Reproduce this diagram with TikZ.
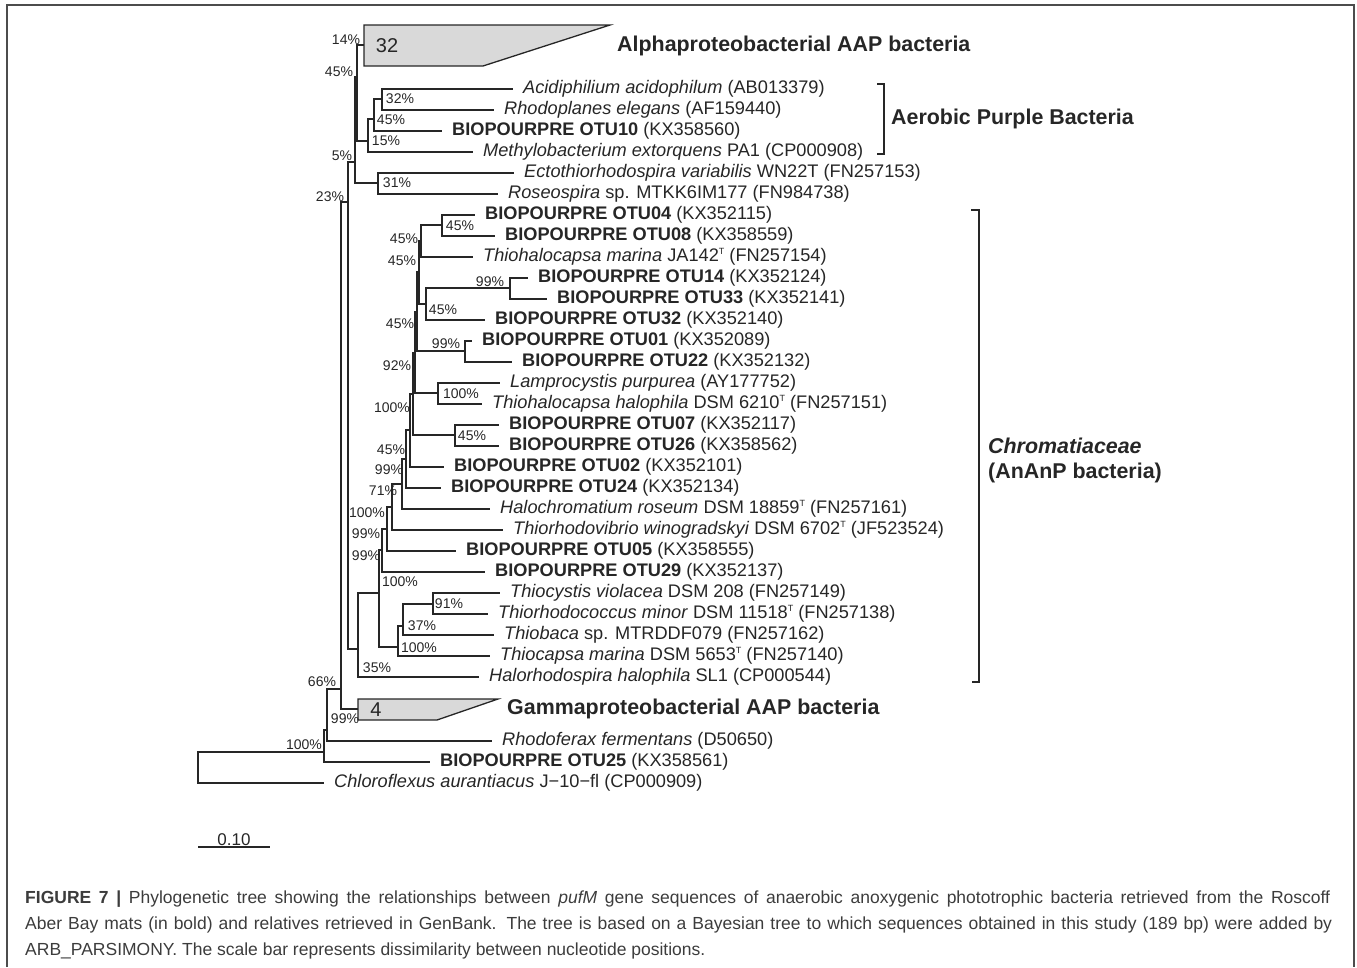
\documentclass[tikz,border=0pt]{standalone}
\usepackage{fontspec}
\setmainfont{Liberation Sans}
\usepackage{tikz}
\usetikzlibrary{positioning}
\usepackage{xcolor}
\definecolor{treeline}{HTML}{262626}
\definecolor{cladefill}{HTML}{D9D9D9}
\definecolor{captext}{HTML}{3C3C3C}
\newcommand{\typeT}{\raisebox{7pt}{\fontsize{9}{9}\selectfont T}}

\begin{document}
\begin{tikzpicture}[x=1pt, y=-1pt,
    br/.style={draw=treeline, line width=1.3pt},
    taxon/.style={anchor=west, inner xsep=10pt, inner ysep=0pt, text=treeline, font=\fontsize{18.2}{20}\selectfont},
    boot/.style={inner sep=0pt, text=treeline, font=\fontsize{14}{14}\selectfont},
    clade/.style={anchor=west, inner sep=0pt, text=treeline, font=\fontsize{21.4}{24}\selectfont\bfseries},
    caprow/.style={anchor=base west, inner sep=0pt, text=captext, font=\fontsize{17.5}{20}\selectfont}]
  \useasboundingbox (0,0) rectangle (1357,967);
  \draw[line width=2pt, draw=black!70] (7,967) -- (7,5) -- (1354,5) -- (1354,967);

  % leaves
  \node[taxon] (acid) at (513,89) {\textit{Acidiphilium acidophilum} (AB013379)};
  \node[taxon] (rhodo) at (494,110) {\textit{Rhodoplanes elegans} (AF159440)};
  \node[taxon] (otu10) at (442,131) {\textbf{BIOPOURPRE OTU10} (KX358560)};
  \node[taxon] (methyl) at (473,152) {\textit{Methylobacterium extorquens} PA1 (CP000908)};
  \node[taxon] (ecto) at (514,173) {\textit{Ectothiorhodospira variabilis} WN22T (FN257153)};
  \node[taxon] (roseo) at (498,194) {\textit{Roseospira} sp. MTKK6IM177 (FN984738)};
  \node[taxon] (otu04) at (475,215) {\textbf{BIOPOURPRE OTU04} (KX352115)};
  \node[taxon] (otu08) at (495,236) {\textbf{BIOPOURPRE OTU08} (KX358559)};
  \node[taxon] (tmar) at (473,257) {\textit{Thiohalocapsa marina} JA142\typeT{} (FN257154)};
  \node[taxon] (otu14) at (528,278) {\textbf{BIOPOURPRE OTU14} (KX352124)};
  \node[taxon] (otu33) at (547,299) {\textbf{BIOPOURPRE OTU33} (KX352141)};
  \node[taxon] (otu32) at (485,320) {\textbf{BIOPOURPRE OTU32} (KX352140)};
  \node[taxon] (otu01) at (472,341) {\textbf{BIOPOURPRE OTU01} (KX352089)};
  \node[taxon] (otu22) at (512,362) {\textbf{BIOPOURPRE OTU22} (KX352132)};
  \node[taxon] (lampro) at (500,383) {\textit{Lamprocystis purpurea} (AY177752)};
  \node[taxon] (thalo) at (482,404) {\textit{Thiohalocapsa halophila} DSM 6210\typeT{} (FN257151)};
  \node[taxon] (otu07) at (499,425) {\textbf{BIOPOURPRE OTU07} (KX352117)};
  \node[taxon] (otu26) at (499,446) {\textbf{BIOPOURPRE OTU26} (KX358562)};
  \node[taxon] (otu02) at (444,467) {\textbf{BIOPOURPRE OTU02} (KX352101)};
  \node[taxon] (otu24) at (441,488) {\textbf{BIOPOURPRE OTU24} (KX352134)};
  \node[taxon] (halochr) at (490,509) {\textit{Halochromatium roseum} DSM 18859\typeT{} (FN257161)};
  \node[taxon] (thiorv) at (503,530) {\textit{Thiorhodovibrio winogradskyi} DSM 6702\typeT{} (JF523524)};
  \node[taxon] (otu05) at (456,551) {\textbf{BIOPOURPRE OTU05} (KX358555)};
  \node[taxon] (otu29) at (485,572) {\textbf{BIOPOURPRE OTU29} (KX352137)};
  \node[taxon] (tviol) at (500,593) {\textit{Thiocystis violacea} DSM 208 (FN257149)};
  \node[taxon] (tminor) at (488,614) {\textit{Thiorhodococcus minor} DSM 11518\typeT{} (FN257138)};
  \node[taxon] (thiobaca) at (494,635) {\textit{Thiobaca} sp. MTRDDF079 (FN257162)};
  \node[taxon] (tcapsa) at (490,656) {\textit{Thiocapsa marina} DSM 5653\typeT{} (FN257140)};
  \node[taxon] (halorh) at (479,677) {\textit{Halorhodospira halophila} SL1 (CP000544)};
  \node[taxon] (rhodof) at (492,741) {\textit{Rhodoferax fermentans} (D50650)};
  \node[taxon] (otu25) at (430,762) {\textbf{BIOPOURPRE OTU25} (KX358561)};
  \node[taxon] (chlor) at (324,783) {\textit{Chloroflexus aurantiacus} J−10−fl (CP000909)};

  % collapsed groups
  \filldraw[br, fill=cladefill] (364,25) -- (610,25) -- (483,66) -- (364,66) -- cycle;
  \filldraw[br, fill=cladefill] (358,699) -- (498,699) -- (437,720) -- (358,720) -- cycle;
  \coordinate (alpha) at (364,45);
  \coordinate (gamma) at (358,709);
  \node[font=\fontsize{20}{20}\selectfont, text=treeline] (nalpha) at (387,46) {32};
  \node[font=\fontsize{20}{20}\selectfont, text=treeline] (ngamma) at (376,710) {4};
  \node[clade] (alphalbl) at (617,46) {Alphaproteobacterial AAP bacteria};
  \node[clade] (gammalbl) at (507,709) {Gammaproteobacterial AAP bacteria};

  % inner nodes
  \coordinate (nRoot) at (198,767);
  \coordinate (nR1) at (324,752);
  \coordinate (nR2) at (327,730);
  \coordinate (nR3) at (341,689);
  \coordinate (nS5) at (348,202);
  \coordinate (nS45) at (355,162);
  \coordinate (nS14) at (357,77);
  \coordinate (nAp15) at (368,141);
  \coordinate (nAp45) at (374,119);
  \coordinate (nAp32) at (382,99);
  \coordinate (nEc31) at (378,183);
  \coordinate (nCh35) at (358,649);
  \coordinate (nCh100) at (379,593);
  \coordinate (nTc100) at (398,647);
  \coordinate (nTc37) at (403,626);
  \coordinate (nTc91) at (433,604);
  \coordinate (nSp1) at (382,550);
  \coordinate (nSp2) at (387,529);
  \coordinate (nSp3) at (392,507);
  \coordinate (nSp4) at (402,484);
  \coordinate (nSp5) at (406,459);
  \coordinate (nSp6) at (410,430);
  \coordinate (nSp7) at (413,394);
  \coordinate (nSp8) at (415,353);
  \coordinate (nSp9) at (417,312);
  \coordinate (nSp10) at (419,272);
  \coordinate (nTm) at (421,241);
  \coordinate (nO4) at (442,225);
  \coordinate (nO32) at (426,304);
  \coordinate (nO14) at (510,288);
  \coordinate (nO01) at (465,351);
  \coordinate (nLp) at (438,393);
  \coordinate (nO07) at (455,435);

  % branches
  \foreach \p/\c in {nRoot/nR1, nRoot/chlor, nR1/nR2, nR1/otu25, nR2/nR3, nR2/rhodof,
      nR3/nS5, nR3/gamma, nS5/nS45, nS5/nCh35, nS45/nS14, nS45/nEc31,
      nS14/alpha, nS14/nAp15, nAp15/nAp45, nAp15/methyl, nAp45/nAp32, nAp45/otu10,
      nAp32/acid, nAp32/rhodo, nEc31/ecto, nEc31/roseo,
      nCh35/nCh100, nCh35/halorh, nCh100/nSp1, nCh100/nTc100,
      nTc100/nTc37, nTc100/tcapsa, nTc37/nTc91, nTc37/thiobaca, nTc91/tviol, nTc91/tminor,
      nSp1/nSp2, nSp1/otu29, nSp2/nSp3, nSp2/otu05, nSp3/nSp4, nSp3/thiorv,
      nSp4/nSp5, nSp4/halochr, nSp5/nSp6, nSp5/otu24, nSp6/nSp7, nSp6/otu02,
      nSp7/nSp8, nSp7/nO07, nSp8/nSp9, nSp8/nLp, nSp9/nSp10, nSp9/nO01,
      nSp10/nTm, nSp10/nO32, nTm/nO4, nTm/tmar, nO4/otu04, nO4/otu08,
      nO32/nO14, nO32/otu32, nO14/otu14, nO14/otu33, nO01/otu01, nO01/otu22,
      nLp/lampro, nLp/thalo, nO07/otu07, nO07/otu26}
    \draw[br] (\p) |- (\c);

  % support values
  \node[boot] (s14) at (346,40) {14\%};
  \node[boot] (s45a) at (339,72) {45\%};
  \node[boot] (s32) at (400,99) {32\%};
  \node[boot] (s45b) at (391,120) {45\%};
  \node[boot] (s15) at (386,141) {15\%};
  \node[boot] (s5) at (342,156) {5\%};
  \node[boot] (s31) at (397,183) {31\%};
  \node[boot] (s23) at (330,197) {23\%};
  \node[boot] (s45c) at (460,226) {45\%};
  \node[boot] (s45d) at (404,239) {45\%};
  \node[boot] (s45e) at (402,261) {45\%};
  \node[boot] (s99a) at (490,282) {99\%};
  \node[boot] (s45f) at (443,310) {45\%};
  \node[boot] (s45g) at (400,324) {45\%};
  \node[boot] (s99b) at (446,344) {99\%};
  \node[boot] (s92) at (397,366) {92\%};
  \node[boot] (s100a) at (461,394) {100\%};
  \node[boot] (s100b) at (392,408) {100\%};
  \node[boot] (s45h) at (472,436) {45\%};
  \node[boot] (s45i) at (391,450) {45\%};
  \node[boot] (s99c) at (389,470) {99\%};
  \node[boot] (s71) at (383,491) {71\%};
  \node[boot] (s100c) at (367,513) {100\%};
  \node[boot] (s99d) at (366,534) {99\%};
  \node[boot] (s99e) at (366,556) {99\%};
  \node[boot] (s100d) at (400,582) {100\%};
  \node[boot] (s91) at (449,604) {91\%};
  \node[boot] (s37) at (422,626) {37\%};
  \node[boot] (s100e) at (419,648) {100\%};
  \node[boot] (s35) at (377,668) {35\%};
  \node[boot] (s66) at (322,682) {66\%};
  \node[boot] (s99f) at (345,719) {99\%};
  \node[boot] (s100f) at (304,745) {100\%};

  % group brackets
  \draw[br] (877,84) -- (884,84) -- (884,154) -- (877,154);
  \node[clade] (aerobic) at (891,119) {Aerobic Purple Bacteria};
  \draw[br] (971,210) -- (979,210) -- (979,682) -- (972,682);
  \node[clade] (chromat) at (988,446) {\itshape Chromatiaceae};
  \node[clade] (ananp) at (988,473) {(AnAnP bacteria)};

  % scale bar
  \draw[br] (198,847) -- (270,847);
  \node[anchor=base, inner sep=0pt, text=treeline, font=\fontsize{17}{17}\selectfont] (scale) at (234,845) {0.10};

  % caption
  \node[caprow] (cap1) at (25,903) {\makebox[1305pt][s]{\textbf{FIGURE 7 |} Phylogenetic tree showing the relationships between \textit{pufM} gene sequences of anaerobic anoxygenic phototrophic bacteria retrieved from the Roscoff}};
  \node[caprow] (cap2) at (25,929) {\makebox[1307pt][s]{Aber Bay mats (in bold) and relatives retrieved in GenBank. The tree is based on a Bayesian tree to which sequences obtained in this study (189 bp) were added by}};
  \node[caprow] (cap3) at (25,955) {ARB\_PARSIMONY. The scale bar represents dissimilarity between nucleotide positions.};
\end{tikzpicture}
\end{document}
